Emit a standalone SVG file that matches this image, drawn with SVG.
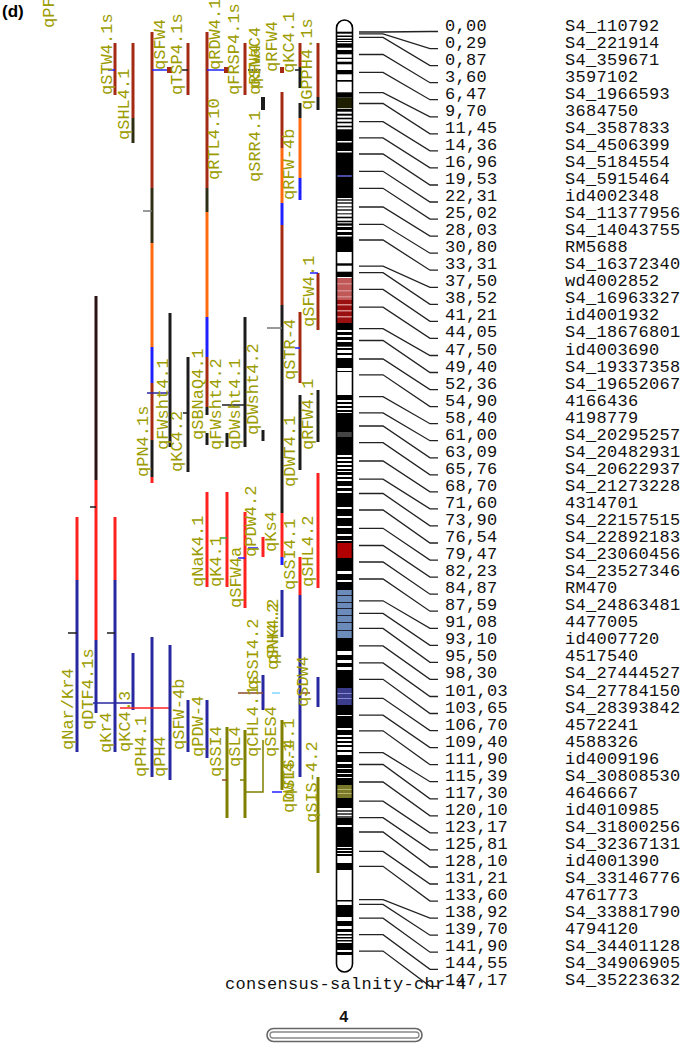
<svg xmlns="http://www.w3.org/2000/svg" width="685" height="1044" viewBox="0 0 685 1044">
<style>
.ql{font-family:"Liberation Mono","DejaVu Sans Mono",monospace;font-size:17px;fill:#9c9c00}
.mk{font-family:"Liberation Mono","DejaVu Sans Mono",monospace;font-size:17px;fill:#111;letter-spacing:0.3px}
.b{stroke-width:3;fill:none}
.t{stroke-width:1.5;fill:none}
.dr{stroke:#a52a14}.bk{stroke:#1c1c1c}.do{stroke:#2e2e14}.or{stroke:#ff6a10}.bl{stroke:#2020ff}
.rd{stroke:#ff2020}.nv{stroke:#2828a0}.ol{stroke:#7f7f00}.gy{stroke:#777}.gn{stroke:#3a3}.cy{stroke:#7fd8ff}.br{stroke:#8a4a2a}
.con path{fill:none;stroke:#222;stroke-width:1.3}
</style>
<defs>
<clipPath id="chrclip"><path d="M336.5,28 A8,8 0 0 1 352.5,28 L352.5,964 A8,8 0 0 1 336.5,964 Z"/></clipPath>
</defs>
<rect width="685" height="1044" fill="#fff"/>
<text x="2" y="17" font-family="Liberation Sans,Arial,sans-serif" font-weight="bold" font-size="17" fill="#000">(d)</text>

<!-- chromosome -->
<g id="chromosome">
<g clip-path="url(#chrclip)">
<rect x="336" y="20" width="17" height="955" fill="#fff"/>
<g fill="#000">
<rect x="336" y="31.7" width="17" height="2"/><rect x="336" y="35.5" width="17" height="1.5"/><rect x="336" y="38.5" width="17" height="1.5"/><rect x="336" y="41" width="17" height="1"/>
<rect x="336" y="43.3" width="17" height="4.4"/><rect x="336" y="50" width="17" height="4.3"/><rect x="336" y="57.7" width="17" height="1.3"/><rect x="336" y="61.7" width="17" height="2.6"/>
<rect x="336" y="70" width="17" height="4.3"/><rect x="336" y="80" width="17" height="1.7"/><rect x="336" y="92.3" width="17" height="5.4"/>
<rect x="336" y="109" width="17" height="2.7"/><rect x="336" y="113.7" width="17" height="2"/><rect x="336" y="117.7" width="17" height="1.6"/><rect x="336" y="121.7" width="17" height="1.6"/><rect x="336" y="125.7" width="17" height="1.6"/>
<rect x="336" y="129.3" width="17" height="11.7"/><rect x="336" y="142.5" width="17" height="8.5"/><rect x="336" y="152.5" width="17" height="22.5"/><rect x="336" y="177" width="17" height="21"/>
<rect x="336" y="216.7" width="17" height="1.6"/><rect x="336" y="220.7" width="17" height="1.6"/><rect x="336" y="223.3" width="17" height="2.4"/><rect x="336" y="227" width="17" height="3"/><rect x="336" y="232" width="17" height="3"/>
<rect x="336" y="236.5" width="17" height="15.5"/><rect x="336" y="263.3" width="17" height="2.4"/><rect x="336" y="271.7" width="17" height="5.3"/>
<rect x="336" y="323" width="17" height="7"/><rect x="336" y="332" width="17" height="3"/><rect x="336" y="337" width="17" height="3"/><rect x="336" y="342" width="17" height="3"/>
<rect x="336" y="345" width="17" height="1.7"/><rect x="336" y="348" width="17" height="2"/><rect x="336" y="353" width="17" height="2"/><rect x="336" y="358" width="17" height="10"/><rect x="336" y="371" width="17" height="1"/>
<rect x="336" y="395" width="17" height="5"/><rect x="336" y="402" width="17" height="2"/><rect x="336" y="406" width="17" height="2"/><rect x="336" y="410" width="17" height="2"/><rect x="336" y="413" width="17" height="19"/>
<rect x="336" y="437" width="17" height="18"/><rect x="336" y="457" width="17" height="2"/><rect x="336" y="461" width="17" height="2"/><rect x="336" y="465" width="17" height="2"/><rect x="336" y="469" width="17" height="2"/>
<rect x="336" y="472" width="17" height="3"/><rect x="336" y="477" width="17" height="2"/><rect x="336" y="481" width="17" height="5"/><rect x="336" y="488" width="17" height="3"/><rect x="336" y="493" width="17" height="5"/>
<rect x="336" y="498" width="17" height="9"/><rect x="336" y="509" width="17" height="4"/><rect x="336" y="513" width="17" height="3"/><rect x="336" y="518" width="17" height="8"/><rect x="336" y="528" width="17" height="6"/><rect x="336" y="536" width="17" height="4"/><rect x="336" y="541" width="17" height="2"/>
<rect x="336" y="558" width="17" height="13"/><rect x="336" y="574" width="17" height="6"/><rect x="336" y="582" width="17" height="8"/>
<rect x="336" y="638" width="17" height="13"/><rect x="336" y="655" width="17" height="5"/><rect x="336" y="663" width="17" height="4"/><rect x="336" y="670" width="17" height="5"/><rect x="336" y="675" width="17" height="13"/>
<rect x="336" y="705" width="17" height="10"/><rect x="336" y="716" width="17" height="12"/><rect x="336" y="730" width="17" height="5"/><rect x="336" y="737" width="17" height="2"/><rect x="336" y="741" width="17" height="2"/><rect x="336" y="745" width="17" height="2"/><rect x="336" y="750" width="17" height="2"/>
<rect x="336" y="755" width="17" height="7"/><rect x="336" y="764" width="17" height="4"/><rect x="336" y="769" width="17" height="4"/><rect x="336" y="774" width="17" height="3"/><rect x="336" y="778" width="17" height="7"/>
<rect x="336" y="798" width="17" height="10"/><rect x="336" y="818" width="17" height="7"/><rect x="336" y="827" width="17" height="20"/><rect x="336" y="848" width="17" height="2"/><rect x="336" y="851" width="17" height="2"/><rect x="336" y="854" width="17" height="2"/>
<rect x="336" y="863" width="17" height="7"/><rect x="336" y="900" width="17" height="1.5"/><rect x="336" y="905" width="17" height="12"/><rect x="336" y="921" width="17" height="5"/><rect x="336" y="929" width="17" height="3"/>
<rect x="336" y="934" width="17" height="1.5"/><rect x="336" y="937" width="17" height="1.5"/><rect x="336" y="940" width="17" height="1.5"/><rect x="336" y="943" width="17" height="7"/><rect x="336" y="952" width="17" height="3"/>
</g>
<rect x="336" y="97.7" width="17" height="10.6" fill="#1e1e00"/>
<rect x="336" y="175" width="17" height="2" fill="#4a4aa8"/>
<g fill="#555"><rect x="336" y="199" width="17" height="2"/><rect x="336" y="202" width="17" height="2"/><rect x="336" y="206" width="17" height="1.5"/><rect x="336" y="209" width="17" height="2"/><rect x="336" y="213" width="17" height="1.5"/><rect x="336" y="810" width="17" height="2"/><rect x="336" y="813" width="17" height="2"/><rect x="336" y="816" width="17" height="2"/></g>
<rect x="336" y="278" width="17" height="22" fill="#c05858"/>
<rect x="336" y="300" width="17" height="23" fill="#9a1010"/>
<g fill="#d88a8a"><rect x="336" y="283" width="17" height="1.5"/><rect x="336" y="290" width="17" height="1.5"/><rect x="336" y="296" width="17" height="1.5"/><rect x="336" y="304" width="17" height="1.5"/><rect x="336" y="310" width="17" height="1.5"/><rect x="336" y="316" width="17" height="1.5"/></g>
<rect x="336" y="432" width="17" height="5" fill="#444"/>
<rect x="336" y="543" width="17" height="15" fill="#b00000"/>
<rect x="336" y="590" width="17" height="48" fill="#6b8cba"/>
<g fill="#223"><rect x="336" y="595" width="17" height="1"/><rect x="336" y="602" width="17" height="1"/><rect x="336" y="608" width="17" height="1"/><rect x="336" y="615" width="17" height="1"/><rect x="336" y="622" width="17" height="1"/><rect x="336" y="630" width="17" height="1"/></g>
<rect x="336" y="688" width="17" height="17" fill="#3c3c8c"/>
<g fill="#8a8ad0"><rect x="336" y="693" width="17" height="1"/><rect x="336" y="698" width="17" height="1"/></g>
<rect x="336" y="785" width="17" height="13" fill="#7a7a2a"/>
<g fill="#b8b868"><rect x="336" y="789" width="17" height="1"/><rect x="336" y="793" width="17" height="1"/></g>
</g>
<path d="M336.5,28 A8,8 0 0 1 352.5,28 L352.5,964 A8,8 0 0 1 336.5,964 Z" fill="none" stroke="#000" stroke-width="1.6"/>
</g>

<!-- connectors -->
<g id="connectors" class="con">
<path d="M359,32 H383 L430,31.5 H438"/>
<path d="M359,33.8 H383 L430,48.6 H438"/>
<path d="M359,37.4 H383 L430,65.6 H438"/>
<path d="M359,54.5 H383 L430,82.7 H438"/>
<path d="M359,72.4 H383 L430,99.7 H438"/>
<path d="M359,92.6 H383 L430,116.8 H438"/>
<path d="M359,103.5 H383 L430,133.8 H438"/>
<path d="M359,121.7 H383 L430,150.9 H438"/>
<path d="M359,137.9 H383 L430,167.9 H438"/>
<path d="M359,154 H383 L430,185 H438"/>
<path d="M359,171.3 H383 L430,202 H438"/>
<path d="M359,188.3 H383 L430,219.1 H438"/>
<path d="M359,207 H383 L430,236.1 H438"/>
<path d="M359,224.3 H383 L430,253.2 H438"/>
<path d="M359,240 H383 L430,270.2 H438"/>
<path d="M359,266.2 H383 L430,287.3 H438"/>
<path d="M359,272.6 H383 L430,304.3 H438"/>
<path d="M359,289.4 H383 L430,321.4 H438"/>
<path d="M359,307.1 H383 L430,338.4 H438"/>
<path d="M359,328.6 H383 L430,355.5 H438"/>
<path d="M359,340.5 H383 L430,372.5 H438"/>
<path d="M359,359 H383 L430,389.6 H438"/>
<path d="M359,374.8 H383 L430,406.6 H438"/>
<path d="M359,396.7 H383 L430,423.7 H438"/>
<path d="M359,412.9 H383 L430,440.7 H438"/>
<path d="M359,426 H383 L430,457.8 H438"/>
<path d="M359,442.7 H383 L430,474.8 H438"/>
<path d="M359,461 H383 L430,491.9 H438"/>
<path d="M359,479.1 H383 L430,508.9 H438"/>
<path d="M359,493.5 H383 L430,525.9 H438"/>
<path d="M359,510 H383 L430,543 H438"/>
<path d="M359,528.3 H383 L430,560.1 H438"/>
<path d="M359,545.5 H383 L430,577.1 H438"/>
<path d="M359,562 H383 L430,594.2 H438"/>
<path d="M359,579 H383 L430,611.2 H438"/>
<path d="M359,600.8 H383 L430,628.3 H438"/>
<path d="M359,613.4 H383 L430,645.3 H438"/>
<path d="M359,628.4 H383 L430,662.4 H438"/>
<path d="M359,645.9 H383 L430,679.4 H438"/>
<path d="M359,662.9 H383 L430,696.5 H438"/>
<path d="M359,679.3 H383 L430,713.5 H438"/>
<path d="M359,698.3 H383 L430,730.6 H438"/>
<path d="M359,715.2 H383 L430,747.6 H438"/>
<path d="M359,730.8 H383 L430,764.7 H438"/>
<path d="M359,752.6 H383 L430,781.7 H438"/>
<path d="M359,764.5 H383 L430,798.8 H438"/>
<path d="M359,782 H383 L430,815.8 H438"/>
<path d="M359,801.2 H383 L430,832.9 H438"/>
<path d="M359,817.7 H383 L430,849.9 H438"/>
<path d="M359,832 H383 L430,867 H438"/>
<path d="M359,851.4 H383 L430,884 H438"/>
<path d="M359,866.3 H383 L430,901.1 H438"/>
<path d="M359,899.6 H383 L430,918.1 H438"/>
<path d="M359,904.4 H383 L430,935.2 H438"/>
<path d="M359,918.2 H383 L430,952.2 H438"/>
<path d="M359,934.7 H383 L430,969.3 H438"/>
<path d="M359,951.1 H383 L430,986.3 H438"/>
</g>

<!-- markers -->
<g id="markers" class="mk">
<g id="m00"><text x="445" y="30.5">0,00</text><text x="565" y="30.5">S4_110792</text></g>
<g id="m01"><text x="445" y="47.6">0,29</text><text x="565" y="47.6">S4_221914</text></g>
<g id="m02"><text x="445" y="64.6">0,87</text><text x="565" y="64.6">S4_359671</text></g>
<g id="m03"><text x="445" y="81.7">3,60</text><text x="565" y="81.7">3597102</text></g>
<g id="m04"><text x="445" y="98.7">6,47</text><text x="565" y="98.7">S4_1966593</text></g>
<g id="m05"><text x="445" y="115.8">9,70</text><text x="565" y="115.8">3684750</text></g>
<g id="m06"><text x="445" y="132.8">11,45</text><text x="565" y="132.8">S4_3587833</text></g>
<g id="m07"><text x="445" y="149.9">14,36</text><text x="565" y="149.9">S4_4506399</text></g>
<g id="m08"><text x="445" y="166.9">16,96</text><text x="565" y="166.9">S4_5184554</text></g>
<g id="m09"><text x="445" y="184">19,53</text><text x="565" y="184">S4_5915464</text></g>
<g id="m10"><text x="445" y="201">22,31</text><text x="565" y="201">id4002348</text></g>
<g id="m11"><text x="445" y="218.1">25,02</text><text x="565" y="218.1">S4_11377956</text></g>
<g id="m12"><text x="445" y="235.1">28,03</text><text x="565" y="235.1">S4_14043755</text></g>
<g id="m13"><text x="445" y="252.2">30,80</text><text x="565" y="252.2">RM5688</text></g>
<g id="m14"><text x="445" y="269.2">33,31</text><text x="565" y="269.2">S4_16372340</text></g>
<g id="m15"><text x="445" y="286.3">37,50</text><text x="565" y="286.3">wd4002852</text></g>
<g id="m16"><text x="445" y="303.3">38,52</text><text x="565" y="303.3">S4_16963327</text></g>
<g id="m17"><text x="445" y="320.4">41,21</text><text x="565" y="320.4">id4001932</text></g>
<g id="m18"><text x="445" y="337.4">44,05</text><text x="565" y="337.4">S4_18676801</text></g>
<g id="m19"><text x="445" y="354.5">47,50</text><text x="565" y="354.5">id4003690</text></g>
<g id="m20"><text x="445" y="371.5">49,40</text><text x="565" y="371.5">S4_19337358</text></g>
<g id="m21"><text x="445" y="388.6">52,36</text><text x="565" y="388.6">S4_19652067</text></g>
<g id="m22"><text x="445" y="405.6">54,90</text><text x="565" y="405.6">4166436</text></g>
<g id="m23"><text x="445" y="422.7">58,40</text><text x="565" y="422.7">4198779</text></g>
<g id="m24"><text x="445" y="439.7">61,00</text><text x="565" y="439.7">S4_20295257</text></g>
<g id="m25"><text x="445" y="456.8">63,09</text><text x="565" y="456.8">S4_20482931</text></g>
<g id="m26"><text x="445" y="473.8">65,76</text><text x="565" y="473.8">S4_20622937</text></g>
<g id="m27"><text x="445" y="490.9">68,70</text><text x="565" y="490.9">S4_21273228</text></g>
<g id="m28"><text x="445" y="507.9">71,60</text><text x="565" y="507.9">4314701</text></g>
<g id="m29"><text x="445" y="525">73,90</text><text x="565" y="525">S4_22157515</text></g>
<g id="m30"><text x="445" y="542">76,54</text><text x="565" y="542">S4_22892183</text></g>
<g id="m31"><text x="445" y="559.1">79,47</text><text x="565" y="559.1">S4_23060456</text></g>
<g id="m32"><text x="445" y="576.1">82,23</text><text x="565" y="576.1">S4_23527346</text></g>
<g id="m33"><text x="445" y="593.2">84,87</text><text x="565" y="593.2">RM470</text></g>
<g id="m34"><text x="445" y="610.2">87,59</text><text x="565" y="610.2">S4_24863481</text></g>
<g id="m35"><text x="445" y="627.3">91,08</text><text x="565" y="627.3">4477005</text></g>
<g id="m36"><text x="445" y="644.3">93,10</text><text x="565" y="644.3">id4007720</text></g>
<g id="m37"><text x="445" y="661.4">95,50</text><text x="565" y="661.4">4517540</text></g>
<g id="m38"><text x="445" y="678.4">98,30</text><text x="565" y="678.4">S4_27444527</text></g>
<g id="m39"><text x="445" y="695.5">101,03</text><text x="565" y="695.5">S4_27784150</text></g>
<g id="m40"><text x="445" y="712.5">103,65</text><text x="565" y="712.5">S4_28393842</text></g>
<g id="m41"><text x="445" y="729.6">106,70</text><text x="565" y="729.6">4572241</text></g>
<g id="m42"><text x="445" y="746.6">109,40</text><text x="565" y="746.6">4588326</text></g>
<g id="m43"><text x="445" y="763.7">111,90</text><text x="565" y="763.7">id4009196</text></g>
<g id="m44"><text x="445" y="780.7">115,39</text><text x="565" y="780.7">S4_30808530</text></g>
<g id="m45"><text x="445" y="797.8">117,30</text><text x="565" y="797.8">4646667</text></g>
<g id="m46"><text x="445" y="814.8">120,10</text><text x="565" y="814.8">id4010985</text></g>
<g id="m47"><text x="445" y="831.9">123,17</text><text x="565" y="831.9">S4_31800256</text></g>
<g id="m48"><text x="445" y="848.9">125,81</text><text x="565" y="848.9">S4_32367131</text></g>
<g id="m49"><text x="445" y="866">128,10</text><text x="565" y="866">id4001390</text></g>
<g id="m50"><text x="445" y="883">131,21</text><text x="565" y="883">S4_33146776</text></g>
<g id="m51"><text x="445" y="900.1">133,60</text><text x="565" y="900.1">4761773</text></g>
<g id="m52"><text x="445" y="917.1">138,92</text><text x="565" y="917.1">S4_33881790</text></g>
<g id="m53"><text x="445" y="934.2">139,70</text><text x="565" y="934.2">4794120</text></g>
<g id="m54"><text x="445" y="951.2">141,90</text><text x="565" y="951.2">S4_34401128</text></g>
<g id="m55"><text x="445" y="968.3">144,55</text><text x="565" y="968.3">S4_34906905</text></g>
<g id="m56"><text x="445" y="985.3">147,17</text><text x="565" y="985.3">S4_35223632</text></g>
</g>

<g id="chr-title" class="mk"><text x="225" y="989">consensus-salnity-chr-4</text></g>
<g id="overview">
<text x="339" y="1022" font-family="Liberation Mono,monospace" font-weight="bold" font-size="16" fill="#111">4</text>
<rect x="267" y="1028.5" width="155" height="13" rx="6.5" fill="#fff" stroke="#666" stroke-width="1.6"/>
<rect x="270" y="1032" width="149" height="6" rx="3" fill="none" stroke="#888" stroke-width="1.3"/>
</g>

<!-- QTLs -->
<g id="qtls">
<g id="q-PF"><text class="ql" transform="translate(54,28) rotate(-90)">qPF</text></g>
<g id="q-STW4-1s"><line class="b dr" x1="115" y1="43" x2="115" y2="95"/><line class="t bl" x1="108" y1="70" x2="115" y2="70"/><text class="ql" transform="translate(112,95) rotate(-90)">qSTW4.1s</text></g>
<g id="q-SHL4-1"><line class="b dr" x1="133" y1="43" x2="133" y2="118"/><line class="b do" x1="133" y1="118" x2="133" y2="143"/><text class="ql" transform="translate(129,140) rotate(-90)">qSHL4.1</text></g>
<g id="col152"><line class="b dr" x1="152" y1="32" x2="152" y2="188"/><line class="b do" x1="152" y1="188" x2="152" y2="243"/><line class="b or" x1="152" y1="243" x2="152" y2="347"/><line class="b bl" x1="152" y1="347" x2="152" y2="383"/><line class="b dr" x1="152" y1="383" x2="152" y2="440"/><line class="b bk" x1="152" y1="440" x2="152" y2="477"/><line class="b rd" x1="152" y1="477" x2="152" y2="483"/><line class="t gy" x1="143" y1="211" x2="152" y2="211"/></g>
<g id="q-SFW4"><line class="t bl" x1="152" y1="70" x2="168" y2="70"/><rect x="167" y="67" width="5" height="6" fill="#a52a14"/><text class="ql" transform="translate(165,70) rotate(-90)">qSFW4</text></g>
<g id="q-TSP4-1s"><line class="b dr" x1="188" y1="43" x2="188" y2="95"/><line class="t bk" x1="182" y1="70" x2="188" y2="70"/><text class="ql" transform="translate(182,95) rotate(-90)">qTSP4.1s</text></g>
<g id="col207"><line class="b dr" x1="207" y1="32" x2="207" y2="188"/><line class="b do" x1="207" y1="188" x2="207" y2="212"/><line class="b or" x1="207" y1="212" x2="207" y2="317"/><line class="b bl" x1="207" y1="317" x2="207" y2="357"/><line class="b dr" x1="207" y1="357" x2="207" y2="407"/><line class="b bk" x1="207" y1="407" x2="207" y2="415"/><text class="ql" transform="translate(219,180) rotate(-90)">qRTL4.10</text></g>
<g id="q-RDW4-1"><line class="t bl" x1="207" y1="70" x2="225" y2="70"/><rect x="224" y="67" width="5" height="6" fill="#a52a14"/><text class="ql" transform="translate(220,70) rotate(-90)">qRDW4.1</text></g>
<g id="q-FRSP4-1s"><line class="b dr" x1="245" y1="43" x2="245" y2="95"/><text class="ql" transform="translate(239,95) rotate(-90)">qFRSP4.1s</text></g>
<g id="q-RFW4-a"><line class="t bk" x1="248" y1="70" x2="262" y2="70" stroke-dasharray="2 1.5"/><text class="ql" transform="translate(260,95) rotate(-90)">qRFW4</text><text class="ql" transform="translate(260,88) rotate(-90)">qSNaC4</text></g>
<g id="q-SRR4-1"><line x1="263" y1="97" x2="263" y2="110" stroke="#1c1c1c" stroke-width="4"/><text class="ql" transform="translate(260,182) rotate(-90)">qSRR4.1</text></g>
<g id="q-RFW4"><rect x="280" y="67" width="4" height="6" fill="#a52a14"/><text class="ql" transform="translate(277,72) rotate(-90)">qRFW4</text></g>
<g id="col282"><line class="b dr" x1="282" y1="92" x2="282" y2="148"/><line class="b or" x1="282" y1="148" x2="282" y2="203"/><line class="b bl" x1="282" y1="203" x2="282" y2="225"/><line class="b dr" x1="282" y1="225" x2="282" y2="305"/><line class="b bk" x1="282" y1="305" x2="282" y2="513"/><line class="b rd" x1="282" y1="513" x2="282" y2="557"/><line class="b bl" x1="282" y1="557" x2="282" y2="565"/><line class="t gy" x1="267" y1="328" x2="282" y2="328"/><text class="ql" transform="translate(294,200) rotate(-90)">qRFW-4b</text></g>
<g id="q-KC4-1"><line class="b dr" x1="300" y1="43" x2="300" y2="67"/><line class="b bk" x1="300" y1="67" x2="300" y2="88"/><line class="t bk" x1="295" y1="70" x2="300" y2="70"/><text class="ql" transform="translate(294,73) rotate(-90)">qKC4.1</text></g>
<g id="col300a"><line class="b bk" x1="300" y1="103" x2="300" y2="118"/><line class="b or" x1="300" y1="118" x2="300" y2="178"/><line class="b bl" x1="300" y1="178" x2="300" y2="200"/></g>
<g id="q-GPPH4-1s"><line class="b dr" x1="318" y1="43" x2="318" y2="97"/><line class="b bk" x1="318" y1="97" x2="318" y2="110"/><text class="ql" transform="translate(312,110) rotate(-90)">qGPPH4.1s</text></g>

<g id="q-PN4-1s"><text class="ql" transform="translate(148,477) rotate(-90)">qPN4.1s</text></g>
<g id="q-FWsht4-1"><line class="b bk" x1="170" y1="313" x2="170" y2="447"/><line class="t nv" x1="147" y1="393" x2="170" y2="393"/><text class="ql" transform="translate(168,450) rotate(-90)">qFWsht4.1</text></g>
<g id="q-KC4-2"><line class="b bk" x1="188" y1="357" x2="188" y2="472"/><line class="t bk" x1="183" y1="413" x2="188" y2="413"/><text class="ql" transform="translate(182,472) rotate(-90)">qKC4.2</text></g>
<g id="q-SBNaQ4-1"><text class="ql" transform="translate(203,440) rotate(-90)">qSBNaQ4.1</text></g>
<g id="q-FWsht4-2"><line class="b bk" x1="207" y1="433" x2="207" y2="445"/><line class="b bk" x1="227" y1="433" x2="227" y2="447"/><text class="ql" transform="translate(221,450) rotate(-90)">qFWsht4.2</text></g>
<g id="q-DWsht4-1"><line class="b bk" x1="245" y1="317" x2="245" y2="447"/><line class="t bk" x1="222" y1="405" x2="245" y2="405"/><text class="ql" transform="translate(240,450) rotate(-90)">qDWsht4.1</text></g>
<g id="q-DWsht4-2"><line class="b bk" x1="263" y1="430" x2="263" y2="441"/><text class="ql" transform="translate(258,435) rotate(-90)">qDWsht4.2</text></g>
<g id="q-STR-4"><line class="b dr" x1="300" y1="312" x2="300" y2="383"/><line class="t bl" x1="295" y1="348" x2="300" y2="348"/><text class="ql" transform="translate(295,380) rotate(-90)">qSTR-4</text></g>
<g id="q-SFW4-1"><line class="b dr" x1="318" y1="273" x2="318" y2="330"/><line class="t bl" x1="310" y1="273" x2="318" y2="273"/><text class="ql" transform="translate(314,327) rotate(-90)">qSFW4.1</text></g>
<g id="q-DWT4-1"><line class="b bk" x1="300" y1="395" x2="300" y2="470"/><text class="ql" transform="translate(295,487) rotate(-90)">qDWT4.1</text></g>
<g id="q-RFW4-1"><line class="b bk" x1="318" y1="390" x2="318" y2="442"/><text class="ql" transform="translate(313,450) rotate(-90)">qRFW4.1</text></g>

<g id="q-NaK4-1"><line class="b rd" x1="207" y1="492" x2="207" y2="587"/><text class="ql" transform="translate(203,587) rotate(-90)">qNaK4.1</text></g>
<g id="q-K4-1"><line class="b rd" x1="227" y1="492" x2="227" y2="587"/><line class="t gn" x1="220" y1="538" x2="227" y2="538"/><text class="ql" transform="translate(221,587) rotate(-90)">qK4.1</text></g>
<g id="q-SFW4a"><line class="b rd" x1="245" y1="512" x2="245" y2="608"/><line class="t bl" x1="238" y1="558" x2="245" y2="558"/><text class="ql" transform="translate(241,608) rotate(-90)">qSFW4a</text></g>
<g id="q-PDW4-2"><line class="b rd" x1="263" y1="537" x2="263" y2="557"/><line class="t bl" x1="248" y1="548" x2="258" y2="548"/><text class="ql" transform="translate(256,557) rotate(-90)">qPDW4.2</text></g>
<g id="q-Ks4"><text class="ql" transform="translate(276,552) rotate(-90)">qKs4</text></g>
<g id="q-SSI4-1"><line class="b rd" x1="300" y1="557" x2="300" y2="595"/><line class="b nv" x1="300" y1="595" x2="300" y2="777"/><text class="ql" transform="translate(295,590) rotate(-90)">qSSI4.1</text></g>
<g id="q-SHL4-2"><line class="b rd" x1="318" y1="473" x2="318" y2="588"/><text class="ql" transform="translate(313,587) rotate(-90)">qSHL4.2</text></g>
<g id="q-SNK4-2"><line class="b nv" x1="282" y1="590" x2="282" y2="637"/><text class="ql" transform="translate(278,670) rotate(-90)">qSNK4.2</text><text class="ql" transform="translate(278,664) rotate(-90)">qPH4.2</text></g>
<g id="q-SSI4-2"><line class="b nv" x1="263" y1="675" x2="263" y2="710"/><line class="t br" x1="238" y1="693" x2="263" y2="693"/><text class="ql" transform="translate(258,690) rotate(-90)">qSSI4.2</text></g>
<g id="q-CHL4-1s"><text class="ql" transform="translate(258,757) rotate(-90)">qCHL4.1s</text></g>
<g id="q-SDW4"><line class="b nv" x1="318" y1="677" x2="318" y2="707"/><line class="t br" x1="300" y1="693" x2="310" y2="693"/><line class="t cy" x1="272" y1="693" x2="280" y2="693"/><text class="ql" transform="translate(308,707) rotate(-90)">qSDW4</text></g>

<g id="q-Nar-Kr4"><line class="b rd" x1="77" y1="517" x2="77" y2="580"/><line class="b nv" x1="77" y1="580" x2="77" y2="752"/><line class="t bk" x1="68" y1="633" x2="77" y2="633"/><text class="ql" transform="translate(73,750) rotate(-90)">qNar/Kr4</text></g>
<g id="q-DTF4-1s"><line class="b" stroke="#2a1414" x1="96" y1="296" x2="96" y2="480"/><line class="b rd" x1="96" y1="480" x2="96" y2="640"/><line class="b nv" x1="96" y1="640" x2="96" y2="713"/><line class="t bk" x1="90" y1="507" x2="96" y2="507"/><line class="t nv" x1="93" y1="703" x2="133" y2="703"/><text class="ql" transform="translate(93,730) rotate(-90)">qDTF4.1s</text></g>
<g id="q-Kr4"><line class="b rd" x1="115" y1="517" x2="115" y2="580"/><line class="b nv" x1="115" y1="580" x2="115" y2="752"/><line class="t bk" x1="107" y1="633" x2="115" y2="633"/><text class="ql" transform="translate(111,753) rotate(-90)">qKr4</text></g>
<g id="q-KC4-3"><line class="b nv" x1="133" y1="653" x2="133" y2="710"/><text class="ql" transform="translate(130,752) rotate(-90)">qKC4.3</text></g>
<g id="q-PH4-1"><line class="b nv" x1="152" y1="637" x2="152" y2="777"/><line class="t rd" x1="120" y1="708" x2="170" y2="708"/><text class="ql" transform="translate(146,777) rotate(-90)">qPH4.1</text></g>
<g id="q-PH4"><line class="b nv" x1="170" y1="645" x2="170" y2="780"/><text class="ql" transform="translate(165,777) rotate(-90)">qPH4</text></g>
<g id="q-SFW-4b"><line class="b nv" x1="188" y1="700" x2="188" y2="752"/><text class="ql" transform="translate(184,750) rotate(-90)">qSFW-4b</text></g>
<g id="q-PDW-4"><line class="b nv" x1="207" y1="700" x2="207" y2="758"/><text class="ql" transform="translate(203,757) rotate(-90)">qPDW-4</text></g>
<g id="q-SSI4"><line class="b ol" x1="227" y1="727" x2="227" y2="818"/><line class="t br" x1="222" y1="780" x2="227" y2="780"/><text class="ql" transform="translate(221,777) rotate(-90)">qSSI4</text></g>
<g id="q-SL4"><line class="b ol" x1="245" y1="730" x2="245" y2="818"/><line class="t ol" x1="240" y1="780" x2="245" y2="780"/><path class="t ol" d="M245,792 H263 V740" stroke-width="3"/><text class="ql" transform="translate(240,767) rotate(-90)">qSL4</text></g>
<g id="q-SES4"><line class="b ol" x1="282" y1="720" x2="282" y2="790"/><line class="t bl" x1="272" y1="792" x2="282" y2="792"/><text class="ql" transform="translate(276,757) rotate(-90)">qSES4</text></g>
<g id="q-DWT4-SIS"><text class="ql" transform="translate(294,813) rotate(-90)">qDWT4.1</text><text class="ql" transform="translate(294,800) rotate(-90)">qSIS-4.1</text></g>
<g id="q-SIS-4-2"><line class="b ol" x1="318" y1="777" x2="318" y2="873"/><text class="ql" transform="translate(317,823) rotate(-90)">qSIS-4.2</text></g>
</g>
</svg>
